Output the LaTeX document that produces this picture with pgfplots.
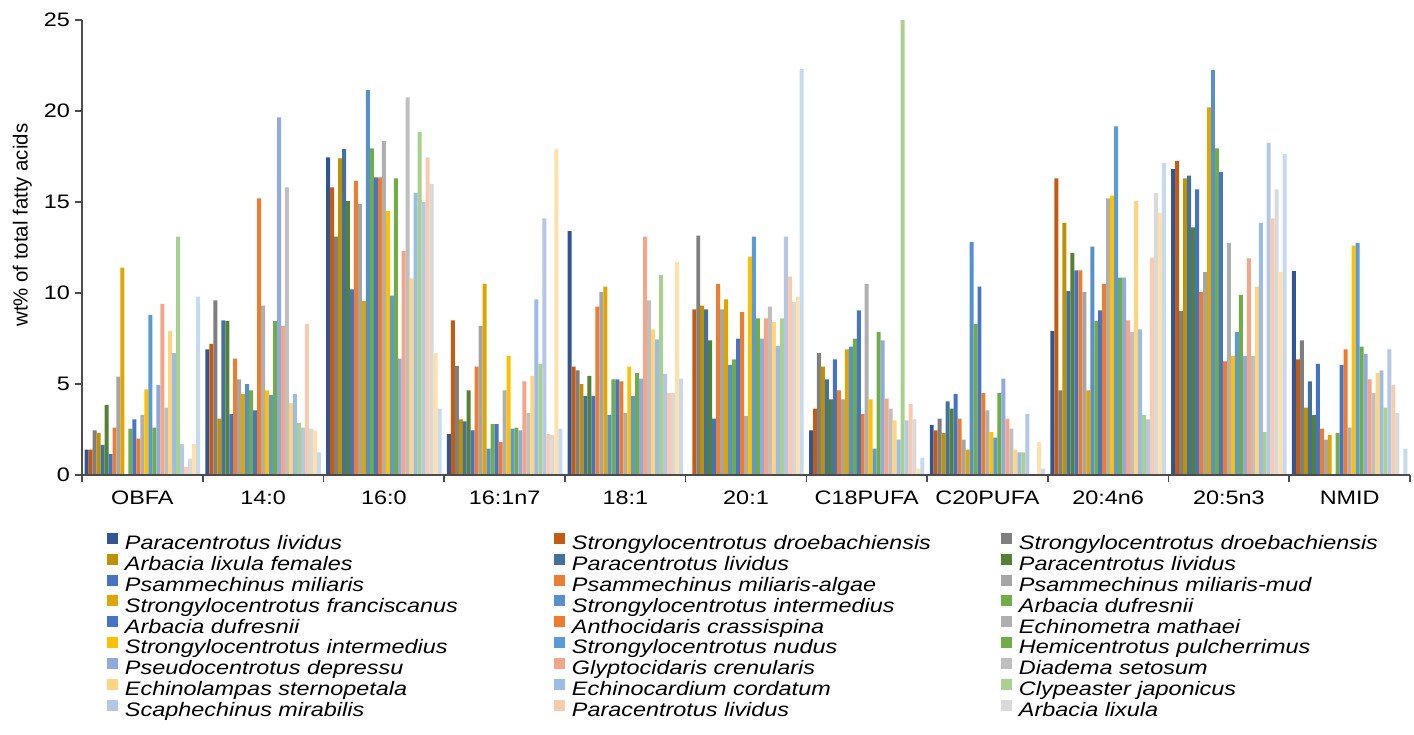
\documentclass[border=0pt]{standalone}
\usepackage{fontspec}
\setmainfont{Liberation Sans}[FakeStretch=1.2]
\newfontfamily\ylabfont{Liberation Sans}
\usepackage{pgfplots}
\pgfplotsset{compat=1.18}
\usepackage{pgfplotstable}

\definecolor{c1}{HTML}{2F5597}
\definecolor{c2}{HTML}{C55A11}
\definecolor{c3}{HTML}{7F7F7F}
\definecolor{c4}{HTML}{BF9000}
\definecolor{c5}{HTML}{41719C}
\definecolor{c6}{HTML}{538135}
\definecolor{c7}{HTML}{4472C4}
\definecolor{c8}{HTML}{ED7D31}
\definecolor{c9}{HTML}{A5A5A5}
\definecolor{c10}{HTML}{DFA500}
\definecolor{c11}{HTML}{5590CF}
\definecolor{c12}{HTML}{70AD47}
\definecolor{c13}{HTML}{4674C8}
\definecolor{c14}{HTML}{F07C2B}
\definecolor{c15}{HTML}{AFAFAF}
\definecolor{c16}{HTML}{FFC000}
\definecolor{c17}{HTML}{5B9BD5}
\definecolor{c18}{HTML}{70AD47}
\definecolor{c19}{HTML}{8FAADC}
\definecolor{c20}{HTML}{F4A587}
\definecolor{c21}{HTML}{BFBFBF}
\definecolor{c22}{HTML}{FFD47F}
\definecolor{c23}{HTML}{9BBCE4}
\definecolor{c24}{HTML}{A9D18E}
\definecolor{c25}{HTML}{B4C7E7}
\definecolor{c26}{HTML}{F8CBAD}
\definecolor{c27}{HTML}{D9D9D9}
\definecolor{c28}{HTML}{FFE0A8}
\definecolor{c29}{HTML}{C5D9F1}

% rows: OBFA, 14:0, 16:0, 16:1n7, 18:1, 20:1, C18PUFA, C20PUFA, 20:4n6, 20:5n3, NMID  (nan = no bar)
\pgfplotstableread{
S1 S2 S3 S4 S5 S6 S7 S8 S9 S10 S11 S12 S13 S14 S15 S16 S17 S18 S19 S20 S21 S22 S23 S24 S25 S26 S27 S28 S29
1.4 1.4 2.45 2.3 1.65 3.85 1.15 2.6 5.4 11.4 nan 2.55 3.05 2.0 3.3 4.7 8.8 2.6 4.95 9.4 3.7 7.9 6.7 13.1 1.7 0.45 0.9 1.7 9.8
6.9 7.2 9.6 3.1 8.5 8.45 3.35 6.4 5.25 4.45 5.0 4.65 3.55 15.2 9.3 4.65 4.4 8.45 19.65 8.2 15.8 3.95 4.45 2.85 2.6 8.3 2.55 2.45 1.25
17.45 15.8 13.1 17.4 17.9 15.05 10.2 16.15 14.9 9.55 21.15 17.95 16.35 16.35 18.35 14.5 9.85 16.3 6.4 12.3 20.75 10.8 15.5 18.85 15.0 17.45 16.0 6.7 3.65
2.25 8.5 6.0 3.05 2.95 4.65 2.45 5.95 8.2 10.5 1.45 2.8 2.8 1.8 4.65 6.55 2.55 2.6 2.45 5.15 3.4 5.45 9.65 6.1 14.1 2.25 2.2 17.9 2.55
13.4 5.95 5.75 5.0 4.35 5.45 4.35 9.25 10.05 10.35 3.3 5.25 5.25 5.15 3.4 5.95 4.35 5.6 5.3 13.1 9.6 8.0 7.45 11.0 5.55 4.5 4.5 11.7 5.3
nan 9.1 13.15 9.3 9.1 7.4 3.1 10.5 9.1 9.65 6.05 6.35 7.5 8.95 3.25 12.0 13.1 8.6 7.5 8.6 9.25 8.4 7.1 8.6 13.1 10.9 9.5 9.8 22.3
2.45 3.65 6.7 5.95 5.25 4.15 6.35 4.65 4.15 6.9 7.05 7.5 9.05 3.35 10.5 4.15 1.45 7.85 7.4 4.2 3.65 3.0 1.95 25 3.0 3.9 3.05 0.35 0.95
2.75 2.45 3.1 2.3 4.05 3.65 4.45 3.1 1.95 1.4 12.8 8.3 10.35 4.5 3.55 2.35 2.05 4.5 5.3 3.1 2.55 1.4 1.25 1.25 3.35 nan nan 1.8 0.35
7.9 16.3 4.65 13.85 10.1 12.2 11.25 11.25 10.05 4.65 12.55 8.45 9.05 10.5 15.2 15.35 19.15 10.85 10.85 8.5 7.85 15.05 8.0 3.3 3.05 11.95 15.5 14.4 17.15
16.8 17.25 9.0 16.3 16.45 13.6 15.7 10.05 11.15 20.2 22.25 17.95 16.65 6.25 12.75 6.55 7.85 9.9 6.55 11.9 6.55 10.35 13.85 2.35 18.25 14.1 15.7 11.15 17.65
11.2 6.35 7.4 3.7 5.15 3.3 6.1 2.55 1.95 2.2 nan 2.3 6.05 6.9 2.6 12.6 12.75 7.05 6.65 5.25 4.5 5.6 5.75 3.7 6.9 4.95 3.4 nan 1.45
}\data

\newcommand\E[1]{\makebox[185pt][l]{#1}}

\begin{document}
\begin{tikzpicture}
\begin{axis}[
  scale only axis, width=664pt, height=227.5pt,
  axis on top,
  ybar=0pt, bar width=1.99pt,
  every axis plot/.append style={draw=none,
    legend image code/.code={\fill[##1] (0pt,0.6pt) rectangle (5.5pt,6.1pt);}},
  unbounded coords=discard,
  xmin=-0.5, xmax=10.5, ymin=0, ymax=25,
  enlargelimits=false,
  xtick={0,...,10},
  xticklabels={OBFA,14:0,16:0,16:1n7,18:1,20:1,C18PUFA,C20PUFA,20:4n6,20:5n3,NMID},
  minor xtick={-0.5,0.5,...,10.5},
  ytick={0,5,...,25},
  axis x line*=bottom, axis y line*=left,
  axis line style={black!70, line width=0.8pt},
  tick align=outside,
  major tick length=3.5pt, minor tick length=3.5pt,
  major x tick style={draw=none},
  minor x tick style={black!70, line width=0.8pt},
  major y tick style={black!70, line width=0.8pt},
  tick label style={font=\fontsize{9.75}{11}\selectfont},
  xticklabel style={yshift=-1pt},
  yticklabel style={xshift=1pt},
  /pgf/number format/assume math mode=true,
  ylabel={wt\% of total fatty acids},
  ylabel style={font=\ylabfont\fontsize{10.2}{12}\selectfont, at={(axis description cs:-0.045,0.549)}, anchor=center},
  legend columns=3,
  legend cell align=left,
  legend style={at={(0,0)}, anchor=north west, xshift=12.5pt, yshift=-28.85pt,
    draw=none, fill=none, inner sep=0pt, outer sep=0pt, row sep=-0.9pt, column sep=0pt,
    nodes={inner sep=0pt, text height=7.5pt, text depth=3pt},
    font=\fontsize{9.75}{11}\selectfont\itshape,
    /tikz/every odd column/.append style={column sep=3.5pt},
    /tikz/every even column/.append style={column sep=29.5pt}},
]
\addplot[fill=c1] table[x expr=\coordindex, y=S1]{\data};
\addplot[fill=c2] table[x expr=\coordindex, y=S2]{\data};
\addplot[fill=c3] table[x expr=\coordindex, y=S3]{\data};
\addplot[fill=c4] table[x expr=\coordindex, y=S4]{\data};
\addplot[fill=c5] table[x expr=\coordindex, y=S5]{\data};
\addplot[fill=c6] table[x expr=\coordindex, y=S6]{\data};
\addplot[fill=c7] table[x expr=\coordindex, y=S7]{\data};
\addplot[fill=c8] table[x expr=\coordindex, y=S8]{\data};
\addplot[fill=c9] table[x expr=\coordindex, y=S9]{\data};
\addplot[fill=c10] table[x expr=\coordindex, y=S10]{\data};
\addplot[fill=c11] table[x expr=\coordindex, y=S11]{\data};
\addplot[fill=c12] table[x expr=\coordindex, y=S12]{\data};
\addplot[fill=c13] table[x expr=\coordindex, y=S13]{\data};
\addplot[fill=c14] table[x expr=\coordindex, y=S14]{\data};
\addplot[fill=c15] table[x expr=\coordindex, y=S15]{\data};
\addplot[fill=c16] table[x expr=\coordindex, y=S16]{\data};
\addplot[fill=c17] table[x expr=\coordindex, y=S17]{\data};
\addplot[fill=c18] table[x expr=\coordindex, y=S18]{\data};
\addplot[fill=c19] table[x expr=\coordindex, y=S19]{\data};
\addplot[fill=c20] table[x expr=\coordindex, y=S20]{\data};
\addplot[fill=c21] table[x expr=\coordindex, y=S21]{\data};
\addplot[fill=c22] table[x expr=\coordindex, y=S22]{\data};
\addplot[fill=c23] table[x expr=\coordindex, y=S23]{\data};
\addplot[fill=c24] table[x expr=\coordindex, y=S24]{\data};
\addplot[fill=c25] table[x expr=\coordindex, y=S25]{\data};
\addplot[fill=c26] table[x expr=\coordindex, y=S26]{\data};
\addplot[fill=c27] table[x expr=\coordindex, y=S27]{\data};
\addplot[fill=c28] table[x expr=\coordindex, y=S28]{\data};
\addplot[fill=c29] table[x expr=\coordindex, y=S29]{\data};
\legend{\E{Paracentrotus lividus},\E{Strongylocentrotus droebachiensis},\E{Strongylocentrotus droebachiensis},
\E{Arbacia lixula females},\E{Paracentrotus lividus},\E{Paracentrotus lividus},
\E{Psammechinus miliaris},\E{Psammechinus miliaris-algae},\E{Psammechinus miliaris-mud},
\E{Strongylocentrotus franciscanus},\E{Strongylocentrotus intermedius},\E{Arbacia dufresnii},
\E{Arbacia dufresnii},\E{Anthocidaris crassispina},\E{Echinometra mathaei},
\E{Strongylocentrotus intermedius},\E{Strongylocentrotus nudus},\E{Hemicentrotus pulcherrimus},
\E{Pseudocentrotus depressu},\E{Glyptocidaris crenularis},\E{Diadema setosum},
\E{Echinolampas sternopetala},\E{Echinocardium cordatum},\E{Clypeaster japonicus},
\E{Scaphechinus mirabilis},\E{Paracentrotus lividus},\E{Arbacia lixula}}
\end{axis}
\pgfresetboundingbox
\path[use as bounding box] ([shift={(-41pt,-129.5pt)}]current axis.south west) rectangle ++(707pt,367pt);
\end{tikzpicture}
\end{document}
